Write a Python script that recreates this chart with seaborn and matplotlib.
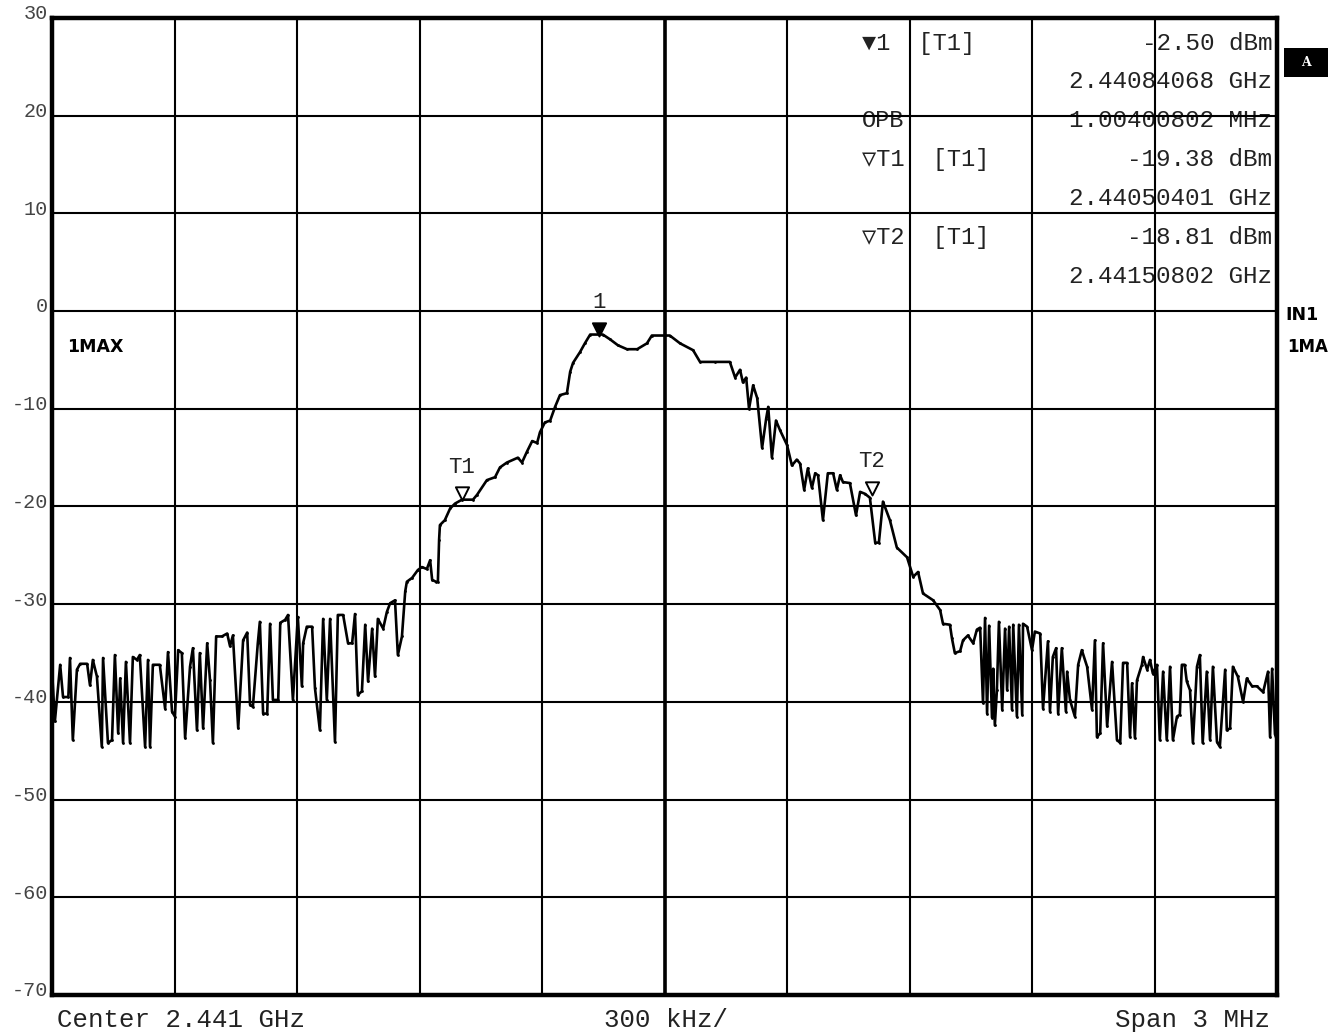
import numpy as np
import pandas as pd
import matplotlib
matplotlib.use("Agg")
import matplotlib.pyplot as plt
import seaborn as sns
from matplotlib.path import Path
from matplotlib.patches import Rectangle

# ---------------- data ----------------
CENTER_GHZ = 2.441
SPAN_KHZ = 3000
REF_TOP_DBM = 30
REF_BOTTOM_DBM = -70

# trace: frequency offset from centre (kHz) and level (dBm)
noise_left_khz = [
    -1500, -1493, -1480, -1473, -1460, -1456, -1449, -1439, -1431, -1414,
    -1407, -1400, -1390, -1378, -1375, -1363, -1353, -1346, -1338, -1333,
    -1326, -1319, -1309, -1302, -1292, -1285, -1272, -1265, -1260, -1253,
    -1236, -1223, -1216, -1206, -1199, -1191, -1182, -1174, -1162, -1155,
    -1145, -1138, -1130, -1120, -1113, -1106, -1098, -1084, -1071, -1064,
    -1057, -1044, -1032, -1022, -1015, -1008, -996, -991, -983, -973,
    -966, -959, -946, -941, -929, -922, -910, -898, -888, -885,
    -876, -863, -856, -844, -836, -827, -819, -807, -800, -787,
    -775, -765, -758, -751, -741, -733, -726, -716, -709, -702,
    -689, -680, -672, -660, -653, -643, -635]
noise_left_dbm = [
    -36.7, -42.0, -36.2, -39.5, -39.5, -35.5, -43.9, -36.7, -36.1, -36.1,
    -38.3, -35.7, -37.4, -44.6, -35.5, -44.2, -43.9, -35.2, -43.2, -37.6,
    -44.2, -35.9, -44.2, -35.4, -35.7, -35.2, -44.6, -35.7, -44.6, -36.2,
    -36.2, -40.7, -34.9, -41.0, -41.5, -34.7, -35.0, -43.7, -36.4, -34.5,
    -42.9, -35.0, -42.7, -34.0, -37.8, -44.2, -33.3, -33.3, -33.0, -34.3,
    -33.2, -42.7, -33.7, -32.9, -40.3, -40.5, -34.0, -31.8, -41.2, -41.2,
    -32.0, -39.8, -39.8, -31.9, -31.6, -31.1, -39.8, -31.3, -38.4, -34.0,
    -32.3, -32.3, -38.6, -42.9, -31.5, -39.8, -31.5, -44.1, -31.1, -31.1,
    -34.0, -34.0, -31.0, -39.3, -38.9, -32.1, -37.9, -32.5, -37.4, -31.5,
    -32.5, -30.8, -29.9, -29.6, -35.2, -33.3, -28.7]

lobe_khz = [
    -631, -618, -604, -594, -582, -574, -569, -560, -555, -552,
    -550, -538, -525, -513, -496, -469, -459, -435, -415, -403,
    -386, -359, -349, -337, -324, -312, -305, -293, -280, -268,
    -256, -239, -231, -224, -207, -195, -182, -151, -133, -114,
    -92, -67, -43, -31, 13, 38, 70, 87, 124, 160,
    173, 185, 192, 200, 207, 217, 227, 239, 249, 254,
    263, 273, 283, 300, 312, 324, 332, 342, 351, 361,
    369, 376, 388, 400, 413, 422, 430, 437, 454, 469,
    479, 491, 503, 516, 525, 535, 552, 569, 594, 609,
    621, 633, 658, 675, 682, 699, 704, 711, 724, 731,
    743, 756, 765, 773]
lobe_dbm = [
    -27.7, -27.3, -26.5, -26.2, -26.4, -25.5, -27.5, -27.7, -27.7, -23.4,
    -21.9, -21.4, -20.2, -19.7, -19.3, -19.3, -18.8, -17.3, -17.0, -16.0,
    -15.5, -15.0, -15.5, -14.4, -13.3, -13.5, -12.4, -11.4, -11.2, -9.8,
    -8.6, -8.4, -6.2, -5.3, -4.2, -3.3, -2.4, -2.4, -2.9, -3.5,
    -3.9, -3.9, -3.3, -2.5, -2.5, -3.3, -4.0, -5.2, -5.2, -5.2,
    -6.8, -6.0, -7.3, -6.8, -10.0, -7.6, -8.9, -14.0, -11.0, -9.8,
    -15.0, -11.2, -12.2, -13.7, -15.8, -15.2, -15.6, -18.3, -16.1, -18.1,
    -16.6, -16.8, -21.4, -16.6, -16.6, -18.3, -16.8, -17.5, -17.6, -20.9,
    -18.5, -18.7, -19.1, -23.7, -23.7, -19.5, -21.4, -24.2, -25.2, -27.2,
    -26.7, -28.9, -29.6, -30.6, -32.0, -32.1, -33.5, -35.0, -34.8, -33.7,
    -33.2, -34.0, -32.6, -32.4]

noise_right_khz = [
    780, 785, 790, 795, 802, 805, 809, 814, 819, 827,
    834, 839, 844, 851, 854, 863, 868, 876, 878, 888,
    900, 907, 920, 927, 939, 944, 951, 959, 964, 973,
    983, 986, 993, 1005, 1013, 1022, 1035, 1047, 1054, 1059,
    1067, 1074, 1084, 1096, 1108, 1116, 1123, 1133, 1140, 1145,
    1152, 1157, 1169, 1172, 1182, 1189, 1196, 1206, 1213, 1221,
    1230, 1238, 1245, 1255, 1262, 1267, 1274, 1279, 1287, 1294,
    1304, 1311, 1318, 1328, 1336, 1343, 1353, 1360, 1373, 1377,
    1385, 1392, 1404, 1417, 1426, 1439, 1451, 1466, 1478, 1483,
    1488, 1495, 1500]
noise_right_dbm = [
    -40.1, -31.4, -41.2, -32.2, -41.6, -36.6, -42.4, -38.8, -31.8, -40.8,
    -32.5, -38.8, -32.3, -40.8, -32.1, -41.5, -32.1, -41.3, -32.0, -32.3,
    -34.7, -32.8, -33.0, -40.7, -33.8, -41.0, -35.4, -34.5, -41.2, -34.5,
    -41.0, -36.9, -39.8, -41.5, -36.2, -34.7, -36.4, -40.8, -33.7, -43.6,
    -43.2, -34.0, -42.5, -35.9, -43.9, -44.2, -36.0, -36.0, -43.6, -38.1,
    -43.7, -37.8, -36.2, -35.4, -36.7, -35.7, -37.1, -36.2, -43.9, -36.9,
    -43.9, -36.4, -43.9, -41.5, -41.3, -36.2, -36.2, -37.9, -38.8, -44.2,
    -36.4, -35.2, -44.2, -36.9, -43.9, -36.4, -44.1, -44.6, -36.7, -42.9,
    -42.7, -36.4, -37.4, -40.0, -37.6, -38.4, -38.4, -39.0, -36.9, -43.6,
    -36.6, -43.3, -43.9]

# markers
marker_names = ["1", "T1", "T2"]
marker_freq_ghz = [2.44084068, 2.44050401, 2.44150802]
marker_level_dbm = [-2.50, -19.38, -18.81]
marker_filled = [True, False, False]

# marker info table
table_left = ["\u25bc1  [T1]", "", "OPB", "\u25bdT1  [T1]", "", "\u25bdT2  [T1]", ""]
table_right = ["-2.50 dBm", "2.44084068 GHz", "1.00400802 MHz",
               "-19.38 dBm", "2.44050401 GHz", "-18.81 dBm", "2.44150802 GHz"]

y_ticks = list(range(REF_BOTTOM_DBM, REF_TOP_DBM + 1, 10))

# ---------------- style ----------------
sns.set_style("white")
MONO = ["Liberation Mono", "DejaVu Sans Mono", "DejaVu Sans"]
plt.rcParams["font.family"] = MONO
TXT = "#222222"

df = pd.DataFrame({
    "freq_khz": noise_left_khz + lobe_khz + noise_right_khz,
    "level_dbm": noise_left_dbm + lobe_dbm + noise_right_dbm,
})

W, H = 1340, 1034
fig = plt.figure(figsize=(W / 100, H / 100), dpi=100)
fig.patch.set_facecolor("white")
ax = fig.add_axes([52 / W, 1 - 995 / H, 1225 / W, 977 / H])

half = SPAN_KHZ / 2
ax.set_xlim(-half, half)
ax.set_ylim(REF_BOTTOM_DBM, REF_TOP_DBM)
ax.set_xticks(np.linspace(-half, half, 11))
ax.set_yticks(y_ticks)
ax.set_xticklabels([])
ax.set_yticklabels([])
ax.tick_params(length=0)
ax.grid(True, color="black", lw=1.5)
ax.set_axisbelow(True)
ax.axvline(0, color="black", lw=2.6, zorder=1)
for s in ax.spines.values():
    s.set_color("black")
    s.set_linewidth(3.2)

sns.lineplot(data=df, x="freq_khz", y="level_dbm", ax=ax, sort=False,
             estimator=None, color="black", lw=1.9, marker=".",
             markersize=4, markeredgewidth=0, zorder=4)
ax.set_xlabel("")
ax.set_ylabel("")

# y labels (slightly above grid lines)
for v in y_ticks:
    ax.annotate(str(v), xy=(0, v), xycoords=("axes fraction", "data"),
                xytext=(-3, 3), textcoords="offset points",
                ha="right", va="center", fontsize=14.5, color="#444444")

# markers on the trace (triangle whose tip touches the trace)
tri = Path([(-0.8, 1.6), (0.8, 1.6), (0.0, 0.0), (-0.8, 1.6)],
           [Path.MOVETO, Path.LINETO, Path.LINETO, Path.CLOSEPOLY])
for name, fg, lv, filled in zip(marker_names, marker_freq_ghz,
                                marker_level_dbm, marker_filled):
    fk = (fg - CENTER_GHZ) * 1e6
    ax.plot([fk], [lv], marker=tri, markersize=19,
            markerfacecolor="black" if filled else "white",
            markeredgecolor="black", markeredgewidth=1.4, zorder=6)
    ax.annotate(name, xy=(fk, lv), xytext=(0, 24), textcoords="offset points",
                ha="center", va="center", fontsize=16, color=TXT, zorder=6)

# marker info table
row_y = [0.9744 - i * 0.0399 for i in range(len(table_right))]
for yy, l, r in zip(row_y, table_left, table_right):
    if l:
        ax.text(0.6612, yy, l, transform=ax.transAxes, ha="left", va="center",
                fontsize=17, color=TXT, family=MONO, zorder=0.4)
    ax.text(0.9962, yy, r, transform=ax.transAxes, ha="right", va="center",
            fontsize=17.5, color=TXT, family=MONO, zorder=0.4)

# trace labels
ax.text(15 / 1225, 1 - (347 - 18) / 977, "1MAX", transform=ax.transAxes,
        ha="left", va="center", fontsize=12.5, fontweight="bold",
        family=["DejaVu Sans"], color="black")
fig.text(1285 / W, 1 - 315 / H, "IN1", ha="left", va="center", fontsize=12.5,
         fontweight="bold", family=["DejaVu Sans"], color="black")
fig.text(1287 / W, 1 - 347 / H, "1MA", ha="left", va="center", fontsize=12,
         fontweight="bold", family=["DejaVu Sans"], color="black")
fig.patches.append(Rectangle((1284 / W, 1 - 77 / H), 44 / W, 29 / H,
                             transform=fig.transFigure, facecolor="black",
                             edgecolor="none"))
fig.text(1306 / W, 1 - 62 / H, "A", ha="center", va="center", fontsize=9,
         fontweight="bold", family=["DejaVu Serif"], color="white")

# bottom annotations
fig.text(57 / W, 1 - 1020 / H, f"Center {CENTER_GHZ} GHz", ha="left",
         va="center", fontsize=18.5, color=TXT)
fig.text(666 / W, 1 - 1020 / H, f"{SPAN_KHZ // 10} kHz/", ha="center",
         va="center", fontsize=18.5, color=TXT)
fig.text(1270 / W, 1 - 1020 / H, f"Span {SPAN_KHZ // 1000} MHz", ha="right",
         va="center", fontsize=18.5, color=TXT)

fig.savefig("out.png", dpi=100, facecolor="white")
